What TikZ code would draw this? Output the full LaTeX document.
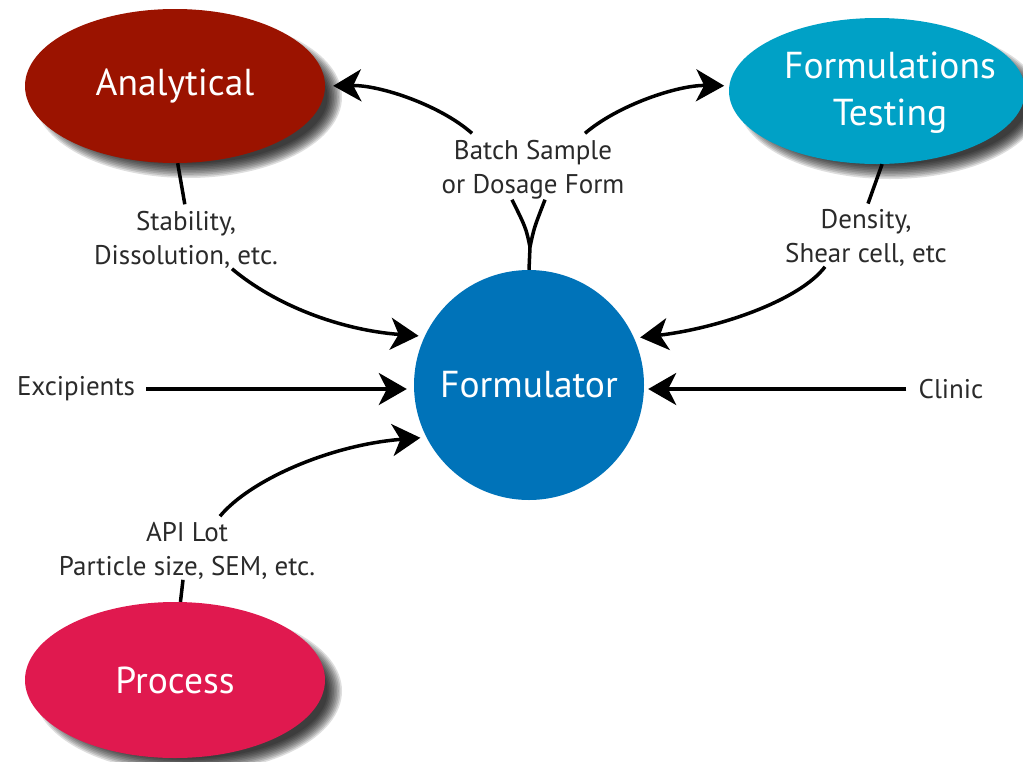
\documentclass[tikz,border=0pt]{standalone}
\usepackage{fontspec}
\setmainfont{PT Sans}
\usetikzlibrary{shapes.geometric,arrows.meta}
\definecolor{anared}{HTML}{9B1300}
\definecolor{ftblue}{HTML}{00A1C6}
\definecolor{formblue}{HTML}{0073B9}
\definecolor{procred}{HTML}{E0194F}
\definecolor{labgray}{HTML}{2A2A2A}
\newcommand\ovalshadow[3]{%
  \foreach \i in {0,...,9}{%
    \fill[black, opacity=0.13] ([shift={(13,11)}]#1) ellipse ({#2+4-\i*1.6} and {#3+4-\i*1.6});}}
\begin{document}
\begin{tikzpicture}[x=1pt,y=-1pt,
  bigfont/.style={font=\fontsize{37.5}{47}\selectfont},
  bigoval/.style={ellipse, draw=none, inner sep=0pt},
  bigtext/.style={bigfont, text=white, align=center, inner sep=0pt},
  lab/.style={text=labgray, font=\fontsize{27}{34}\selectfont, align=center, inner sep=0pt},
  plain/.style={line width=3.5pt, draw=black},
  conn/.style={plain, -{Stealth[length=28pt,width=32pt,inset=8pt]}}
]
\useasboundingbox[fill=white] (0,0) rectangle (1023,761);

\coordinate (Apos) at (175,86);
\coordinate (FTpos) at (877,91);
\coordinate (Ppos) at (175,680);

% soft shadows
\ovalshadow{Apos}{150}{77}
\ovalshadow{FTpos}{148}{73}
\ovalshadow{Ppos}{150}{78}

% main nodes
\node[bigoval, fill=anared, minimum width=300pt, minimum height=154pt,
  label={[bigtext]center:Analytical}] (A) at (Apos) {};
\node[bigoval, fill=ftblue, minimum width=296pt, minimum height=146pt,
  label={[bigtext, xshift=13pt, yshift=-2pt]center:Formulations\\Testing}] (FT) at (FTpos) {};
\node[bigoval, fill=procred, minimum width=300pt, minimum height=156pt,
  label={[bigtext]center:Process}] (P) at (Ppos) {};
\node[circle, fill=formblue, minimum size=230pt, inner sep=0pt, bigfont, text=white] (F) at (529,385) {Formulator};

% labels
\node[lab] (L1) at (186,240) {Stability,\\Dissolution, etc.};
\node[lab] (L2) at (866,238) {Density,\\Shear cell, etc};
\node[lab] (L3) at (187,551) {API Lot\\Particle size, SEM, etc.};
\node[lab] (L4) at (533,170) {Batch Sample\\or Dosage Form};
\node[lab] (Ex) at (76,389) {Excipients};
\node[lab] (Cl) at (951,389) {Clinic};
\coordinate (split) at (530,247);

% Analytical -> Formulator
\draw[plain, shorten >=7pt] (A.-88) -- (L1.north);
\draw[conn, shorten >=6pt] ([xshift=46pt]L1.south) .. controls (275,305) and (340,330) .. (F.155);

% Formulations Testing -> Formulator
\draw[plain, shorten >=6pt] (FT.-86) -- (L2.north);
\draw[conn, shorten >=6pt] ([xshift=-41pt]L2.south) .. controls (800,300) and (720,328) .. (F.24);

% Excipients, Clinic
\draw[conn, shorten <=11pt, shorten >=7pt] (Ex.east) -- (Ex.east -| F.west);
\draw[conn, shorten <=12pt, shorten >=4pt] (Cl.west) -- (Cl.west -| F.east);

% Process -> Formulator
\draw[plain] (P.86) -- ([xshift=-4pt]L3.south);
\draw[conn, shorten >=6pt] ([xshift=33pt,yshift=6pt]L3.north) .. controls (250,480) and (330,445) .. (F.207);

% Formulator -> Analytical / Formulations Testing
\draw[plain] (F.north) -- (split);
\draw[plain] (split) .. controls (526,228) .. ([xshift=-21pt]L4.south);
\draw[plain] (split) .. controls (534,228) .. ([xshift=12pt]L4.south);
\draw[conn, shorten >=8pt] ([xshift=-61pt,yshift=7pt]L4.north) .. controls (440,105) and (380,85) .. (A.east);
\draw[conn, shorten >=5pt] ([xshift=52pt,yshift=7pt]L4.north) .. controls (618,105) and (678,85) .. (FT.178);
\end{tikzpicture}
\end{document}
